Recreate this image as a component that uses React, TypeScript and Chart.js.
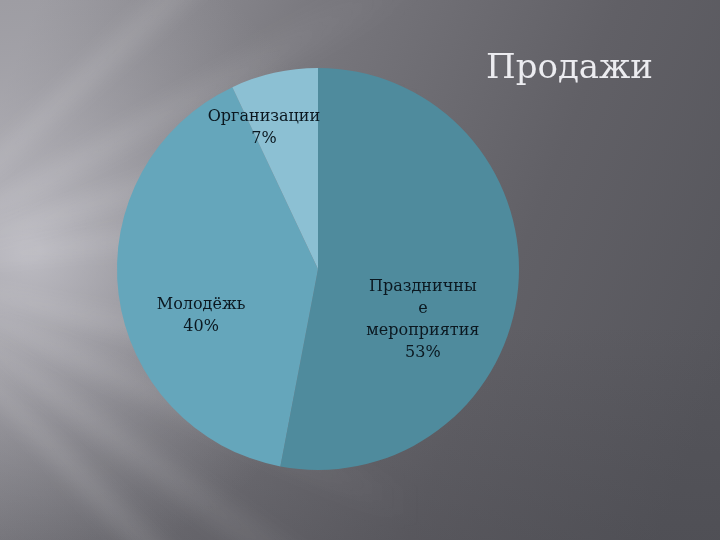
import React, { useEffect, useRef } from "react";
import { Chart, registerables } from "chart.js";

Chart.register(...registerables);

const categories = ["Праздничные мероприятия", "Молодёжь", "Организации"];
const labelLines = [["Праздничны", "е", "мероприятия"], ["Молодёжь"], ["Организации"]];
const values = [53, 40, 7];
const sliceColors = ["#4F8B9D", "#65A6BB", "#8CC0D3"];
const title = "Продажи";

// label placement: [radius fraction, angle offset in radians]
const labelPlacement: [number, number][] = [
  [0.58, (20.5 * Math.PI) / 180],
  [0.627, (-14.7 * Math.PI) / 180],
  [0.754, (-8.3 * Math.PI) / 180],
];

const backgroundPlugin = {
  id: "bg",
  beforeDraw(chart: any) {
    const ctx = chart.ctx as CanvasRenderingContext2D;
    const w = chart.width;
    const h = chart.height;
    ctx.save();
    const lg = ctx.createLinearGradient(0, 100, w, 380);
    lg.addColorStop(0, "#9c9ba1");
    lg.addColorStop(0.35, "#78777d");
    lg.addColorStop(0.7, "#616066");
    lg.addColorStop(1, "#56565c");
    ctx.fillStyle = lg;
    ctx.fillRect(0, 0, w, h);
    const vg = ctx.createLinearGradient(0, 0, 0, h);
    vg.addColorStop(0, "rgba(60,60,66,0.0)");
    vg.addColorStop(0.6, "rgba(60,60,66,0.0)");
    vg.addColorStop(1, "rgba(60,60,66,0.25)");
    ctx.fillStyle = vg;
    ctx.fillRect(0, 0, w, h);
    const rg = ctx.createRadialGradient(30, 250, 10, 30, 250, 320);
    rg.addColorStop(0, "rgba(200,199,206,0.75)");
    rg.addColorStop(0.5, "rgba(180,179,186,0.35)");
    rg.addColorStop(1, "rgba(160,160,166,0)");
    ctx.fillStyle = rg;
    ctx.fillRect(0, 0, w, h);
    // light rays
    ctx.filter = "blur(10px)";
    const ox = -120;
    const oy = 270;
    const rays = [-0.75, -0.5, -0.3, -0.12, 0.22, 0.42, 0.62, 0.8];
    rays.forEach((a) => {
      const len = 620;
      const spread = 0.035;
      ctx.beginPath();
      ctx.moveTo(ox, oy);
      ctx.lineTo(ox + len * Math.cos(a - spread), oy + len * Math.sin(a - spread));
      ctx.lineTo(ox + len * Math.cos(a + spread), oy + len * Math.sin(a + spread));
      ctx.closePath();
      const g = ctx.createLinearGradient(0, 0, 420, 0);
      g.addColorStop(0, "rgba(255,255,255,0.16)");
      g.addColorStop(1, "rgba(255,255,255,0)");
      ctx.fillStyle = g;
      ctx.fill();
    });
    ctx.filter = "none";
    // title
    ctx.fillStyle = "#ECECF0";
    ctx.font = '34px "DejaVu Serif"';
    ctx.textAlign = "left";
    ctx.textBaseline = "alphabetic";
    ctx.fillText(title, 486, 78);
    ctx.restore();
  },
};

const labelPlugin = {
  id: "sliceLabels",
  afterDatasetsDraw(chart: any) {
    const ctx = chart.ctx as CanvasRenderingContext2D;
    const meta = chart.getDatasetMeta(0);
    const data = chart.data.datasets[0].data as number[];
    const total = data.reduce((s, v) => s + v, 0);
    ctx.save();
    ctx.font = '16px "DejaVu Serif"';
    ctx.fillStyle = "#0B1820";
    ctx.textAlign = "center";
    ctx.textBaseline = "middle";
    meta.data.forEach((arc: any, i: number) => {
      const { x, y, startAngle, endAngle, outerRadius } = arc.getProps(
        ["x", "y", "startAngle", "endAngle", "outerRadius"],
        true
      );
      const [f, off] = labelPlacement[i];
      const mid = (startAngle + endAngle) / 2 + off;
      const cx = x + Math.cos(mid) * outerRadius * f;
      const cy = y + Math.sin(mid) * outerRadius * f;
      const lines = [...labelLines[i], Math.round((data[i] / total) * 100) + "%"];
      const lh = 22;
      const top = cy - ((lines.length - 1) * lh) / 2;
      lines.forEach((ln, j) => ctx.fillText(ln, cx, top + j * lh));
    });
    ctx.restore();
  },
};

export default function App() {
  const ref = useRef<HTMLCanvasElement>(null);
  useEffect(() => {
    if (!ref.current) return;
    const chart = new Chart(ref.current, {
      type: "pie",
      data: {
        labels: categories,
        datasets: [
          {
            data: values,
            backgroundColor: sliceColors,
            borderWidth: 0,
          },
        ],
      },
      options: {
        animation: false,
        responsive: false,
        layout: { padding: { left: 117, right: 201, top: 68, bottom: 70 } },
        plugins: {
          legend: { display: false },
          tooltip: { enabled: false },
          title: { display: false },
        },
      },
      plugins: [backgroundPlugin, labelPlugin],
    });
    return () => chart.destroy();
  }, []);
  return (
    <div style={{ position: "absolute", left: 0, top: 0, width: 720, height: 540 }}>
      <canvas ref={ref} width={720} height={540} style={{ display: "block" }} />
    </div>
  );
}
